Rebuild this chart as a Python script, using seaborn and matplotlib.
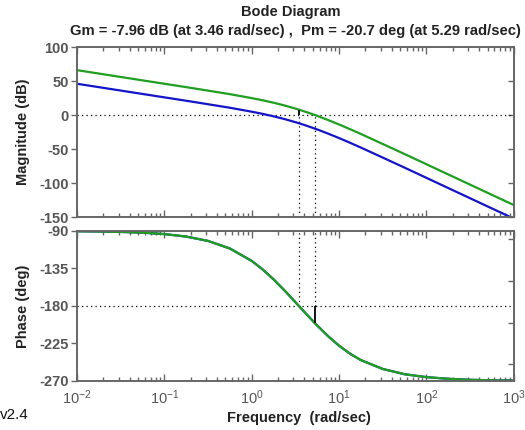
import numpy as np
import pandas as pd
import matplotlib
matplotlib.use('Agg')
import matplotlib.pyplot as plt
import seaborn as sns

# Frequencies (rad/sec)
freq = [0.01, 0.0178, 0.0316, 0.0562, 0.1, 0.178, 0.316, 0.562, 1.0, 1.334,
        1.778, 2.371, 3.162, 3.46, 4.217, 5.29, 5.623, 7.5, 10.0, 13.34,
        17.78, 31.62, 56.23, 100.0, 177.8, 316.2, 562.3, 1000.0]

# Magnitude (dB), green = compensated loop, blue = plant
mag_green = [66.0, 61.0, 56.0, 51.0, 46.0, 41.0, 35.9, 30.7, 24.9, 21.7,
             18.1, 14.1, 9.5, 7.96, 4.4, 0.0, -1.2, -7.4, -13.9, -20.8,
             -27.9, -42.6, -57.4, -72.4, -87.4, -102.4, -117.4, -132.4]
mag_blue = [46.0, 41.0, 36.0, 31.0, 26.0, 21.0, 15.9, 10.7, 4.9, 1.7,
            -1.9, -5.9, -10.5, -12.0, -15.6, -20.0, -21.2, -27.4, -33.9, -40.8,
            -47.9, -62.6, -77.4, -92.4, -107.4, -122.4, -137.4, -152.4]

# Phase (deg), same for both systems
phase = [-90.4, -90.7, -91.2, -92.1, -93.8, -96.8, -102.0, -111.1, -126.0, -136.2,
         -148.1, -161.4, -175.5, -180.0, -189.7, -200.7, -203.5, -216.4, -227.7, -237.3,
         -245.0, -255.6, -261.9, -265.4, -267.4, -268.6, -269.2, -269.5]

# Margins
gm_db, gm_freq = -7.96, 3.46
pm_deg, pm_freq = -20.7, 5.29

df = pd.DataFrame({'freq': freq, 'blue': mag_blue, 'green': mag_green, 'phase': phase})

sns.set_theme(style='white')
plt.rcParams['font.family'] = ['Liberation Sans', 'DejaVu Sans']
plt.rcParams['mathtext.default'] = 'regular'
plt.rcParams['axes.unicode_minus'] = False

green = '#1f9f1f'
blue = '#1414c8'
frame = '#666666'
dots = (0, (1, 2.6))

fig = plt.figure(figsize=(5.25, 4.3), dpi=100)
ax1 = fig.add_axes([0.1467, 0.4953, 0.832, 0.3953])
ax2 = fig.add_axes([0.1467, 0.114, 0.832, 0.349])

# Magnitude
sns.lineplot(data=df, x='freq', y='blue', ax=ax1, color=blue, lw=1.6)
sns.lineplot(data=df, x='freq', y='green', ax=ax1, color=green, lw=1.6)
ax1.axhline(0, color='black', ls=dots, lw=0.9, zorder=1)
ax1.vlines([gm_freq, pm_freq], -150, 0, color='black', ls=dots, lw=0.9, zorder=1)
ax1.vlines(gm_freq, 0, -gm_db, color='black', lw=1.3)

# Phase
sns.lineplot(data=df, x='freq', y='phase', ax=ax2, color=blue, lw=1.6)
sns.lineplot(data=df, x='freq', y='phase', ax=ax2, color=green, lw=1.6)
ax2.axhline(-180, color='black', ls=dots, lw=0.9, zorder=1)
ax2.vlines([gm_freq, pm_freq], -180, -90, color='black', ls=dots, lw=0.9, zorder=1)
ax2.vlines(pm_freq, -180, -180 + pm_deg, color='black', lw=1.3)

for ax in (ax1, ax2):
    ax.set_xscale('log')
    ax.set_xlim(0.01, 1000)
    ax.set_xlabel('')
    for s in ax.spines.values():
        s.set_visible(True)
        s.set_color(frame)
        s.set_linewidth(1.4)
    ax.tick_params(axis='x', which='both', direction='in', top=True, bottom=True,
                   color=frame, width=1)
    ax.tick_params(axis='x', which='major', length=5)
    ax.tick_params(axis='x', which='minor', length=3)
    ax.tick_params(axis='y', direction='out', left=True, right=False,
                   color=frame, width=1, length=4)
    ax.tick_params(labelcolor='#555555', labelsize=10.5, pad=2)
    # inward ticks on the right spine
    axr = ax.secondary_yaxis('right')
    axr.tick_params(direction='in', color=frame, width=1, length=4, labelright=False)
    axr.spines['right'].set_visible(False)

ax1.set_ylim(-150, 100)
ax1.set_yticks([-150, -100, -50, 0, 50, 100])
ax1.tick_params(axis='x', labelbottom=False)
ax1.set_ylabel('Magnitude (dB)', fontweight='bold', fontsize=10.5, color='#222222')
ax1.yaxis.set_label_coords(-0.108, 0.5)

ax2.set_ylim(-270, -90)
ax2.set_yticks([-270, -225, -180, -135, -90])
ax2.set_ylabel('Phase (deg)', fontweight='bold', fontsize=10.5, color='#222222')
ax2.yaxis.set_label_coords(-0.108, 0.5)
for ax in (ax1, ax2):
    for t in ax.get_yticklabels():
        t.set_fontweight('bold')
ax2.tick_params(axis='x', labelsize=10.5, pad=5)

fig.text(0.553, 0.972, 'Bode Diagram', ha='center', va='center',
         fontweight='bold', fontsize=10.5, color='#222222')
fig.text(0.562, 0.928, 'Gm = -7.96 dB (at 3.46 rad/sec) ,  Pm = -20.7 deg (at 5.29 rad/sec)',
         ha='center', va='center', fontweight='bold', fontsize=10.6, color='#222222')
fig.text(0.57, 0.028, 'Frequency  (rad/sec)', ha='center', va='center',
         fontweight='bold', fontsize=10.5, color='#222222')
fig.text(0.0, 0.035, 'v2.4', ha='left', va='center', fontsize=11, color='#111111')

fig.savefig('out.png', dpi=100)
